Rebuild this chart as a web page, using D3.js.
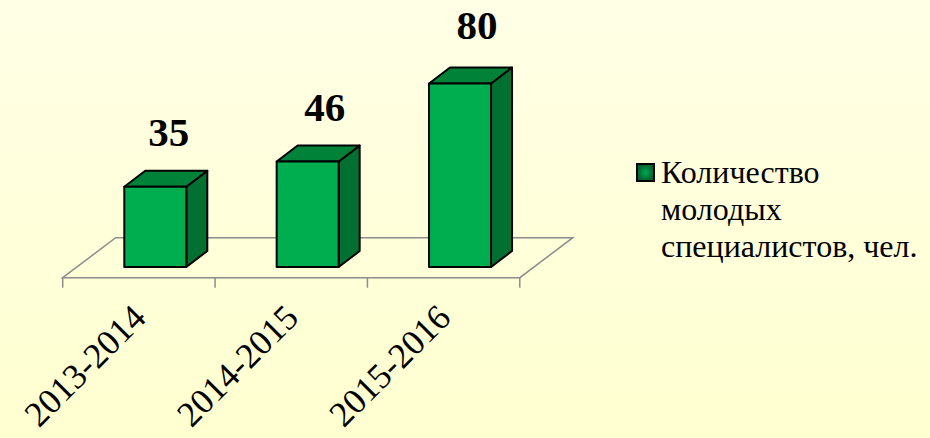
<!DOCTYPE html>
<html><head><meta charset="utf-8">
<script src="https://cdn.jsdelivr.net/npm/d3@7/dist/d3.min.js"></script>
<style>html,body{margin:0;padding:0;overflow:hidden}svg{display:block}text{font-family:"Liberation Serif",serif;fill:#000}</style>
</head><body><div id="c"></div>
<script>
const categories = ["2013-2014","2014-2015","2015-2016"];
const values = [35,46,80];
const seriesName = ["Количество","молодых","специалистов, чел."];
const W=930,H=438;
const svg=d3.select("#c").append("svg").attr("width",W).attr("height",H);
const defs=svg.append("defs");
const bg=defs.append("linearGradient").attr("id","bg").attr("x1",0).attr("y1",0).attr("x2",0).attr("y2",1);
bg.append("stop").attr("offset",0).attr("stop-color","#ffffe6");
bg.append("stop").attr("offset",1).attr("stop-color","#ffffd0");
const lg=defs.append("radialGradient").attr("id","lg");
lg.append("stop").attr("offset",0).attr("stop-color","#00a850");
lg.append("stop").attr("offset",1).attr("stop-color","#00602e");
svg.append("rect").attr("width",W).attr("height",H).attr("fill","url(#bg)");

const x=d3.scaleBand().domain(categories).range([62.7,519.8]);
const y=d3.scaleLinear().domain([0,80]).range([267,83.5]);
const floorY=277.7, floorDx=53, floorDy=-40, depthX=21, depthY=-16, barW=62;

// floor
svg.append("path").attr("fill","none").attr("stroke","#8c8c8c").attr("stroke-width",1.5)
 .attr("d",`M${x.range()[0]},${floorY}L${x.range()[0]+floorDx},${floorY+floorDy}L${x.range()[1]+floorDx},${floorY+floorDy}L${x.range()[1]},${floorY}Z`);
// axis
const axis=d3.axisBottom(x).tickSize(0).tickPadding(0);
const ag=svg.append("g").attr("transform",`translate(0,${floorY})`).call(axis);
ag.select(".domain").remove();
ag.selectAll("text").attr("font-size",35.5).attr("text-anchor","end").attr("dy",null).attr("y",null)
 .attr("transform","translate(9,42) rotate(-45)");
const edges=[...categories.map(c=>x(c)),x.range()[1]];
svg.selectAll("line.t").data(edges).join("line").attr("class","t")
 .attr("x1",d=>d).attr("x2",d=>d).attr("y1",floorY).attr("y2",floorY+10)
 .attr("stroke","#8c8c8c").attr("stroke-width",1.5);

// bars
const offset=61.6;
const g=svg.selectAll("g.bar").data(categories.map((c,i)=>({c,v:values[i],i}))).join("g").attr("class","bar");
const sk={stroke:"#000","stroke-width":2,"stroke-linejoin":"round"};
function style(s){for(const k in sk)s.attr(k,sk[k]);return s;}
style(g.append("path").attr("fill","#017030")).attr("d",d=>{const l=x(d.c)+offset+barW,t=y(d.v),b=y(0);
 return `M${l},${t}L${l+depthX},${t+depthY}L${l+depthX},${b+depthY}L${l},${b}Z`;});
style(g.append("path").attr("fill","#018239")).attr("d",d=>{const l=x(d.c)+offset,t=y(d.v);
 return `M${l},${t}L${l+depthX},${t+depthY}L${l+barW+depthX},${t+depthY}L${l+barW},${t}Z`;});
style(g.append("rect").attr("fill","#00ae50")).attr("x",d=>x(d.c)+offset).attr("y",d=>y(d.v)).attr("width",barW).attr("height",d=>y(0)-y(d.v));
g.append("text").attr("x",d=>x(d.c)+offset+barW/2+(d.i===0?13.5:17)).attr("y",d=>y(d.v)-(d.v===d3.max(values)?44.5:40.7))
 .attr("text-anchor","middle").attr("font-size",41).attr("font-weight","bold").text(d=>d.v);

// legend
svg.append("rect").attr("x",637).attr("y",164).attr("width",17).attr("height",17).attr("fill","url(#lg)").attr("stroke","#000").attr("stroke-width",2);
svg.selectAll("text.l").data(seriesName).join("text").attr("class","l").attr("x",661).attr("y",(d,i)=>183+i*37)
 .attr("font-size",32).text(d=>d);
</script></body></html>
